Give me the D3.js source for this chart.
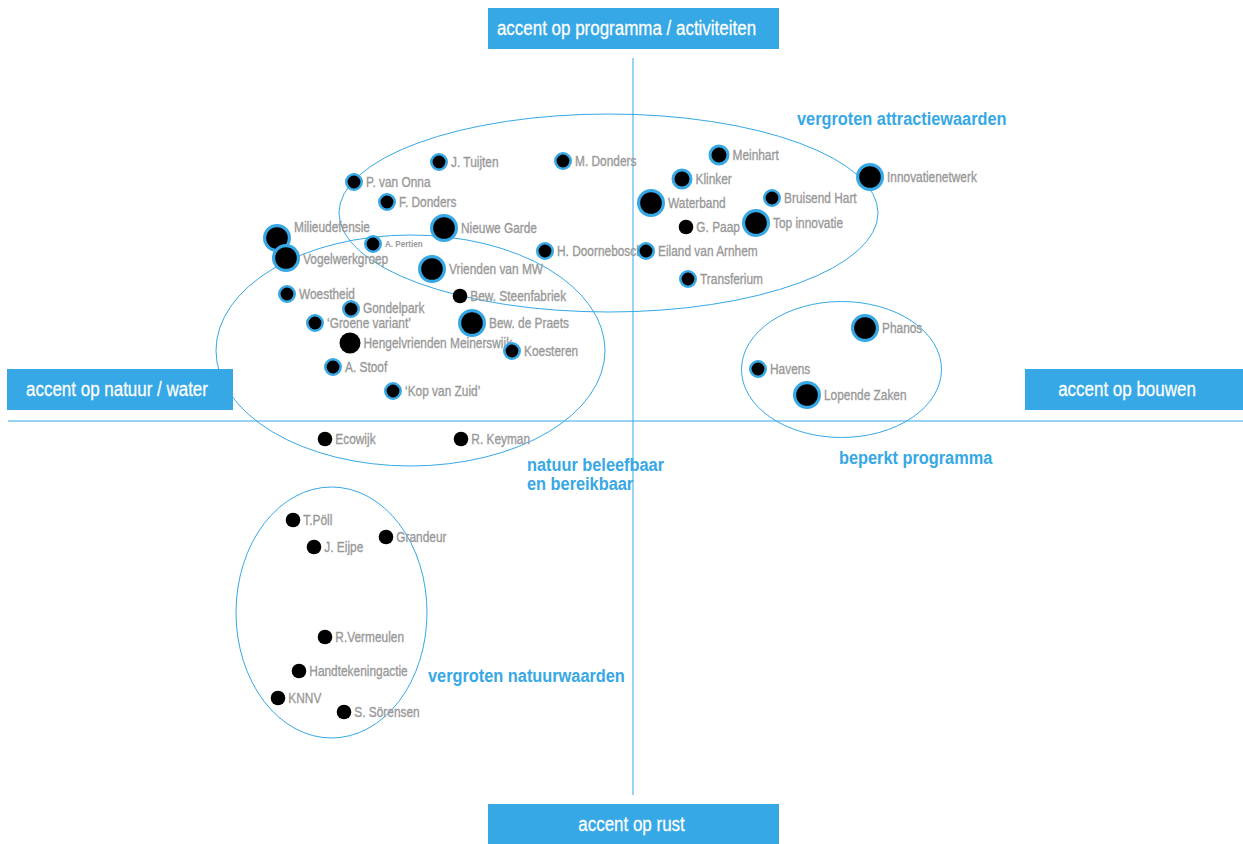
<!DOCTYPE html>
<html><head><meta charset="utf-8">
<script src="https://cdn.jsdelivr.net/npm/d3@7"></script>
<style>
html,body{margin:0;padding:0;background:#fff;}
svg{display:block;}
text{font-family:"Liberation Sans Narrow","Arial Narrow","Liberation Sans",Arial,sans-serif;}
</style></head>
<body><svg id="c" width="1243" height="844"></svg>
<script>
// ---- data ----
const names = ["J. Tuijten","M. Donders","P. van Onna","F. Donders","Milieudefensie","Vogelwerkgroep","A. Pertien","Nieuwe Garde","Vrienden van MW","H. Doornebosch",
"Meinhart","Klinker","Waterband","G. Paap","Top innovatie","Bruisend Hart","Eiland van Arnhem","Transferium","Innovatienetwerk",
"Woestheid","Gondelpark","\u2018Groene variant\u2019","Hengelvrienden Meinerswijk","A. Stoof","\u2018Kop van Zuid\u2019","Bew. Steenfabriek","Bew. de Praets","Koesteren","Ecowijk","R. Keyman",
"Phanos","Havens","Lopende Zaken",
"T.Pöll","J. Eijpe","Grandeur","R.Vermeulen","Handtekeningactie","KNNV","S. Sörensen"];
const xVals = [-19.4,-7.0,-27.9,-24.6,-35.6,-34.7,-26.0,-18.9,-20.1,-8.8,
8.6,4.9,1.8,5.3,12.3,13.9,1.3,5.5,23.7,
-34.6,-28.2,-31.8,-28.3,-30.0,-24.0,-17.3,-16.1,-12.1,-30.8,-17.2,
23.2,12.5,17.4,
-34.0,-31.9,-24.7,-30.8,-33.4,-35.5,-28.9];
const yVals = [25.9,26.0,23.9,21.9,18.3,16.3,17.7,19.3,15.2,17.0,
26.6,24.2,21.8,19.4,19.8,22.3,17.0,14.2,24.4,
12.7,11.2,9.8,7.8,5.4,3.0,12.5,9.8,7.0,-1.8,-1.8,
9.3,5.2,2.6,
-9.9,-12.6,-11.6,-21.6,-25.0,-27.7,-29.1];
// weight class: 1 small, 2 medium, 3 large
const weights = [1,1,1,1,3,3,1,3,3,1,
2,2,3,1,3,1,1,1,3,
1,1,1,3,1,1,1,3,1,1,1,
3,1,3,
1,1,1,1,1,1,1];
// ringed = blue outline
const ringed = [1,1,1,1,1,1,1,1,1,1,
1,1,1,0,1,1,1,1,1,
1,1,1,0,1,1,0,1,1,0,0,
1,1,1,
0,0,0,0,0,0,0];

const groupNames = ["vergroten attractiewaarden","natuur beleefbaar","beperkt programma","vergroten natuurwaarden"];
const groupCx = [-2.45,-22.25,20.85,-30.15];
const groupCy = [20.8,7.05,5.15,-19.15];
const groupRx = [26.95,19.45,10.0,9.55];
const groupRy = [9.9,11.55,6.8,12.55];
const groupLabelX = [16.4,-10.6,20.6,-20.5];
const groupLabelY = [30.3,-4.3,-3.6,-25.4];
const groupLabelLine2 = ["","en bereikbaar","",""];

const axisLabels = ["accent op programma / activiteiten","accent op rust","accent op natuur / water","accent op bouwen"];

// ---- drawing ----
const BLUE = "#36a8e6";
const svg = d3.select("#c");
const x = d3.scaleLinear().domain([-62.5, 61]).range([8, 1243]);
const y = d3.scaleLinear().domain([36.3, -37.4]).range([58, 795]);
const kx = x(1) - x(0), ky = y(0) - y(1);

function ctext(px, py, sx, str) {
  return svg.append("text").attr("transform", `translate(${px},${py}) scale(${sx},1)`).text(str);
}

// axes
svg.append("line").attr("x1", x(0)).attr("x2", x(0)).attr("y1", y(36.3)).attr("y2", y(-37.4))
  .attr("stroke", BLUE).attr("stroke-width", 1);
svg.append("line").attr("x1", x(-62.5)).attr("x2", x(61)).attr("y1", y(0)).attr("y2", y(0))
  .attr("stroke", BLUE).attr("stroke-width", 1);

// ellipses
groupNames.forEach((g, i) => {
  svg.append("ellipse").attr("cx", x(groupCx[i])).attr("cy", y(groupCy[i]))
    .attr("rx", groupRx[i] * kx).attr("ry", groupRy[i] * ky)
    .attr("fill", "none").attr("stroke", BLUE).attr("stroke-width", 1);
});

// boxes
const boxes = [
  {x0: 488, x1: 779, y0: 8, y1: 49, dx: -7},
  {x0: 488, x1: 779, y0: 804, y1: 845, dx: -2},
  {x0: 7, x1: 233, y0: 369, y1: 410, dx: -3},
  {x0: 1025, x1: 1243, y0: 369, y1: 410, dx: -7}
];
boxes.forEach((b, i) => {
  svg.append("rect").attr("x", b.x0).attr("y", b.y0).attr("width", b.x1 - b.x0).attr("height", b.y1 - b.y0).attr("fill", BLUE);
  ctext((b.x0 + b.x1) / 2 + b.dx, (b.y0 + b.y1) / 2 + 6.5, 0.87, axisLabels[i])
    .attr("text-anchor", "middle").attr("fill", "#fff").attr("font-size", 19.5)
    .attr("stroke", "#fff").attr("stroke-width", 0.25);
});

// group labels
groupNames.forEach((g, i) => {
  ctext(x(groupLabelX[i]), y(groupLabelY[i]) + 6.5, 0.86, g)
    .attr("fill", BLUE).attr("font-size", 19).attr("font-weight", "bold");
  if (groupLabelLine2[i]) {
    ctext(x(groupLabelX[i]), y(groupLabelY[i]) + 25.5, 0.86, groupLabelLine2[i])
      .attr("fill", BLUE).attr("font-size", 19).attr("font-weight", "bold");
  }
});

// points
const outerR = d3.scaleOrdinal().domain([1,2,3]).range([9, 10.5, 14]);
const plainR = d3.scaleOrdinal().domain([1,2,3]).range([7.3, 8.5, 10.5]);
const ringW = d3.scaleOrdinal().domain([1,2,3]).range([2.6, 3, 3.2]);
const nudge = {"Milieudefensie": -11, "Vogelwerkgroep": 1, "Gondelpark": -1};

names.forEach((n, i) => {
  const cx = x(xVals[i]), cy = y(yVals[i]);
  const w = weights[i];
  let R;
  if (ringed[i]) {
    R = outerR(w);
    const sw = ringW(w);
    svg.append("circle").attr("cx", cx).attr("cy", cy).attr("r", R - sw / 2)
      .attr("fill", "#000").attr("stroke", BLUE).attr("stroke-width", sw);
  } else {
    R = plainR(w);
    svg.append("circle").attr("cx", cx).attr("cy", cy).attr("r", R).attr("fill", "#000");
  }
  const small = n === "A. Pertien";
  ctext(cx + R + 3, cy + (nudge[n] || 0) + (small ? 3 : 5), small ? 0.85 : 0.82, n)
    .attr("fill", "#999").attr("font-size", small ? 9.5 : 14.5)
    .attr("stroke", "#999").attr("stroke-width", small ? 0 : 0.35)
    .attr("font-weight", small ? "bold" : "normal");
});
</script></body></html>
